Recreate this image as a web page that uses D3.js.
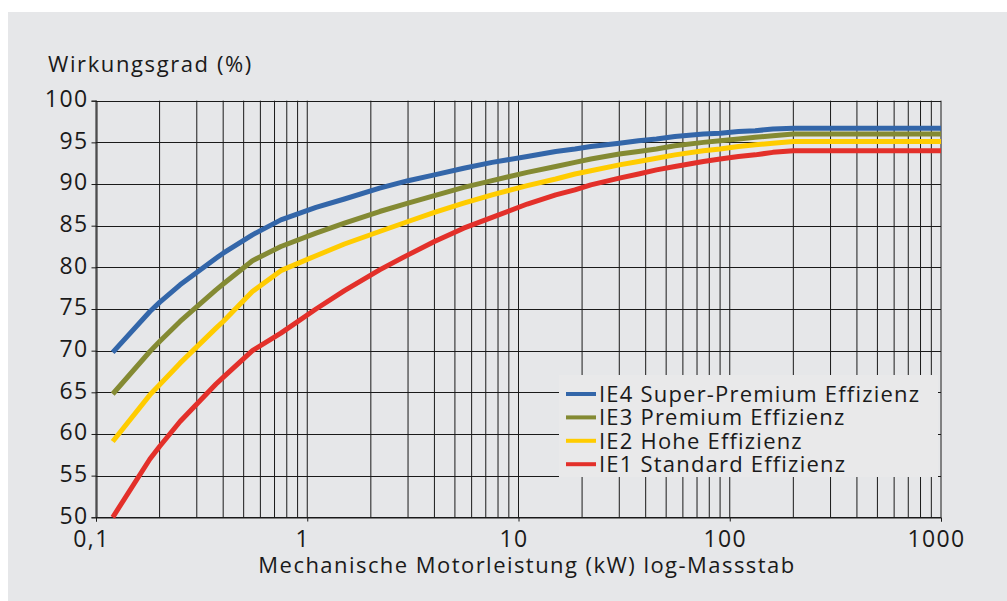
<!DOCTYPE html>
<html>
<head>
<meta charset="utf-8">
<script src="https://cdn.jsdelivr.net/npm/d3@7"></script>
<style>
html,body{margin:0;padding:0;background:#fff;}
svg{display:block;}
text{font-family:"Open Sans","Noto Sans",sans-serif;fill:#1a1a1a;}
</style>
</head>
<body>
<script>
// Rated power (kW), 4-pole efficiency classes
const power = [0.12,0.18,0.20,0.25,0.37,0.40,0.55,0.75,1.1,1.5,2.2,3,4,5.5,7.5,11,15,18.5,22,30,37,45,55,75,90,110,132,160,200,1000];
const ie1 = [50.0,57.0,58.5,61.5,66.0,66.8,70.0,72.1,75.0,77.2,79.7,81.5,83.1,84.7,86.0,87.6,88.7,89.3,89.9,90.7,91.2,91.7,92.1,92.7,93.0,93.3,93.5,93.8,94.0,94.0];
const ie2 = [59.1,64.7,65.9,68.5,72.7,73.5,77.1,79.6,81.4,82.8,84.3,85.5,86.6,87.7,88.7,89.8,90.6,91.2,91.6,92.3,92.7,93.1,93.5,94.0,94.2,94.5,94.7,94.9,95.1,95.1];
const ie3 = [64.8,69.9,71.1,73.5,77.3,78.0,80.8,82.5,84.1,85.3,86.7,87.7,88.6,89.6,90.4,91.4,92.1,92.6,93.0,93.6,93.9,94.2,94.6,95.0,95.2,95.4,95.6,95.8,96.0,96.0];
const ie4 = [69.8,74.7,75.8,77.9,81.1,81.7,83.9,85.7,87.2,88.2,89.5,90.4,91.1,91.9,92.6,93.3,93.9,94.2,94.5,94.9,95.2,95.4,95.7,96.0,96.1,96.3,96.4,96.6,96.7,96.7];
const seriesNames = ["IE4 Super-Premium Effizienz","IE3 Premium Effizienz","IE2 Hohe Effizienz","IE1 Standard Effizienz"];
const seriesColors = ["#3366a9","#848a33","#ffcc00","#e3302a"];
const yTicks = [50,55,60,65,70,75,80,85,90,95,100];
const xTickValues = [0.1,1,10,100,1000];
const xTickLabels = ["0,1","1","10","100","1000"];
const yTitle = "Wirkungsgrad (%)";
const xTitle = "Mechanische Motorleistung (kW) log-Massstab";

const W = 1007, H = 601;
const svg = d3.select("body").append("svg").attr("width", W).attr("height", H);
svg.append("rect").attr("x",8).attr("y",12).attr("width",W-8).attr("height",H-12).attr("fill","#e6e7e9");

const x = d3.scaleLog().domain([0.1,1000]).range([96,941]);
const y = d3.scaleLinear().domain([50,100]).range([517.3,100.7]);

// minor + major vertical grid
const vlines = [];
for (let e = -1; e < 3; e++) for (let k = 1; k <= 9; k++) vlines.push(k*Math.pow(10,e));
vlines.push(1000);
const grid = svg.append("g");
grid.selectAll("line.v").data(vlines).join("line")
  .attr("x1", d=>x(d)).attr("x2", d=>x(d))
  .attr("y1", y(100)).attr("y2", y(50))
  .attr("stroke","#1a1a1a").attr("stroke-width",1);
grid.selectAll("line.h").data(yTicks).join("line")
  .attr("x1", x(0.1)).attr("x2", x(1000))
  .attr("y1", d=>Math.round(y(d))+0.5).attr("y2", d=>Math.round(y(d))+0.5)
  .attr("stroke","#1a1a1a").attr("stroke-width",1);

// Y axis
const yAxis = d3.axisLeft(y).tickValues(yTicks).tickSize(5).tickPadding(4).tickFormat(d3.format("d"));
const gy = svg.append("g").attr("transform","translate(96.5,0)").call(yAxis);
gy.select(".domain").attr("stroke","#1a1a1a");
gy.selectAll(".tick line").attr("stroke","#1a1a1a");
gy.selectAll(".tick text").attr("font-size",23).attr("x",-8).attr("dy","0.34em")
  .attr("letter-spacing",1.4)
  .attr("transform","translate(0,-2)").style("font-family","'Open Sans',sans-serif").attr("fill","#1a1a1a");

// X axis
const xAxis = d3.axisBottom(x).tickValues(xTickValues).tickSize(4).tickPadding(8)
  .tickFormat((d,i)=>xTickLabels[i]);
const gx = svg.append("g").attr("transform","translate(0,517.5)").call(xAxis);
gx.select(".domain").attr("stroke","#1a1a1a");
gx.selectAll(".tick line").attr("stroke","#1a1a1a");
gx.selectAll(".tick text").attr("font-size",23).attr("x",-5).attr("y",0).attr("dy",29)
  .attr("letter-spacing",1.4)
  .style("font-family","'Open Sans',sans-serif").attr("fill","#1a1a1a");

// Titles
svg.append("text").attr("x",48).attr("y",72).attr("font-size",22).attr("letter-spacing",1.6).text(yTitle);
svg.append("text").attr("x",527).attr("y",573).attr("text-anchor","middle").attr("font-size",22)
  .attr("letter-spacing",1.45).text(xTitle);

// Series lines
const data = [ie4, ie3, ie2, ie1];
const line = d3.line().x((d,i)=>x(power[i])).y(d=>y(d));
const order = [3,2,1,0];
svg.append("g").selectAll("path").data(order).join("path")
  .attr("d", i=>line(data[i]))
  .attr("fill","none").attr("stroke", i=>seriesColors[i]).attr("stroke-width",5)
  .attr("stroke-linejoin","round");

// Legend
const lg = svg.append("g");
lg.append("rect").attr("x",559).attr("y",375).attr("width",379).attr("height",102).attr("fill","#e9e9ea");
const ly0 = 394, ldy = 23.4;
seriesNames.forEach((n,i)=>{
  lg.append("line").attr("x1",566).attr("x2",596).attr("y1",ly0+i*ldy).attr("y2",ly0+i*ldy)
    .attr("stroke",seriesColors[i]).attr("stroke-width",4);
  lg.append("text").attr("x",599).attr("y",ly0+i*ldy).attr("dy","0.36em").attr("font-size",22)
    .attr("letter-spacing",1.2).text(n);
});
</script>
</body>
</html>
